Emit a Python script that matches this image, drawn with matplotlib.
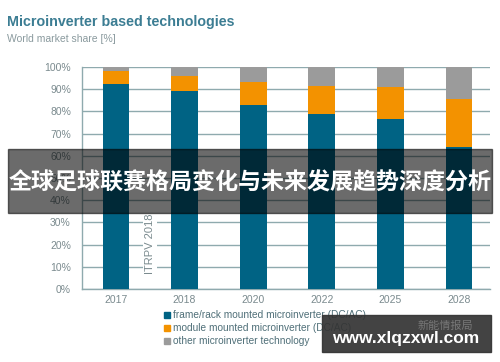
import matplotlib
matplotlib.use("Agg")
import matplotlib.pyplot as plt
from matplotlib.patches import Rectangle
import numpy as np

years = ["2017", "2018", "2020", "2022", "2025", "2028"]
frame_rack = [92.3, 89.2, 83.0, 78.8, 76.6, 64.0]
module_mounted = [6.1, 6.8, 10.4, 12.8, 14.2, 21.5]
other = [1.6, 4.0, 6.6, 8.4, 9.2, 14.5]
yticks = [0, 10, 20, 30, 40, 50, 60, 70, 80, 90, 100]
legend_labels = ["frame/rack mounted microinverter (DC/AC)",
                 "module mounted microinverter (DC/AC)",
                 "other microinverter technology"]

c_teal = "#006384"
c_orange = "#F39200"
c_gray = "#9B9B9B"
c_grid = "#8FAAAE"
c_tick = "#7A8A8E"

plt.rcParams['font.family'] = ['Liberation Sans', 'Noto Sans CJK SC', 'DejaVu Sans']

fig = plt.figure(figsize=(5, 3.62), dpi=100)
ax = fig.add_axes([0.164, 0.2017, 0.816, 0.613])

x = np.arange(len(years))
w = 0.39
fr = np.array(frame_rack)
mm = np.array(module_mounted)
ot = np.array(other)
ax.bar(x, fr, w, color=c_teal, zorder=3)
ax.bar(x, mm, w, bottom=fr, color=c_orange, zorder=3)
ax.bar(x, ot, w, bottom=fr + mm, color=c_gray, zorder=3)

ax.set_xlim(-0.495, 5.45)
ax.set_ylim(0, 100)
ax.set_yticks(yticks)
ax.set_yticklabels([f"{v}%" for v in yticks])
ax.set_xticks(x)
ax.set_xticklabels(years)
ax.yaxis.grid(True, color=c_grid, linewidth=1.0, zorder=0)
ax.tick_params(axis='both', length=0, labelsize=7.5, colors=c_tick, pad=4)
ax.tick_params(axis='y', pad=8)
for s in ["top", "right"]:
    ax.spines[s].set_visible(False)
for s in ["left", "bottom"]:
    ax.spines[s].set_color(c_grid)
    ax.spines[s].set_linewidth(1.0)

# ITRPV label
ax.text(0.5, 20.5, "ITRPV 2018", rotation=90, ha='center', va='center',
        fontsize=8, color=c_tick, zorder=4,
        bbox=dict(facecolor='white', edgecolor='none', pad=1.5))

# Titles
fig.text(0.014, 0.94, "Microinverter based technologies", fontsize=10.3,
         fontweight='bold', color="#3C7D93", ha='left', va='center')
fig.text(0.014, 0.892, "World market share [%]", fontsize=7.5,
         color="#8A9A9E", ha='left', va='center')

# Legend
cols = [c_teal, c_orange, c_gray]
for i, (lab, c) in enumerate(zip(legend_labels, cols)):
    yy = 1 - (315 + 13 * i) / 362
    fig.patches.append(Rectangle((0.328, yy - 0.009), 0.012, 0.018,
                                 transform=fig.transFigure, color=c))
    fig.text(0.346, yy, lab, fontsize=7.3, color="#4F6F78", ha='left', va='center')

# Overlay banner
fig.patches.append(Rectangle((0.016, 1 - 213 / 362), 0.968, 64 / 362,
                             transform=fig.transFigure, color='black', alpha=0.58, zorder=10))
fig.text(0.5, 1 - 183 / 362, "全球足球联赛格局变化与未来发展趋势深度分析",
         fontsize=16.6, fontweight='bold', color='white', ha='center', va='center',
         family=['Noto Sans CJK SC', 'DejaVu Sans'], zorder=11)

# Watermark box
fig.patches.append(Rectangle((322 / 500, 1 - 352 / 362), 169 / 500, 37 / 362,
                             transform=fig.transFigure, color='#333333', alpha=0.92, zorder=10))
fig.text(0.89, 1 - 326 / 362, "新能情报局", fontsize=8, color='#777777',
         ha='center', va='center', family=['Noto Sans CJK SC', 'DejaVu Sans'], zorder=11)
fig.text(0.812, 1 - 338 / 362, "www.xlqzxwl.com", fontsize=12.5, fontweight='bold',
         color='white', ha='center', va='center', zorder=12)

fig.savefig("out.png", dpi=100)
